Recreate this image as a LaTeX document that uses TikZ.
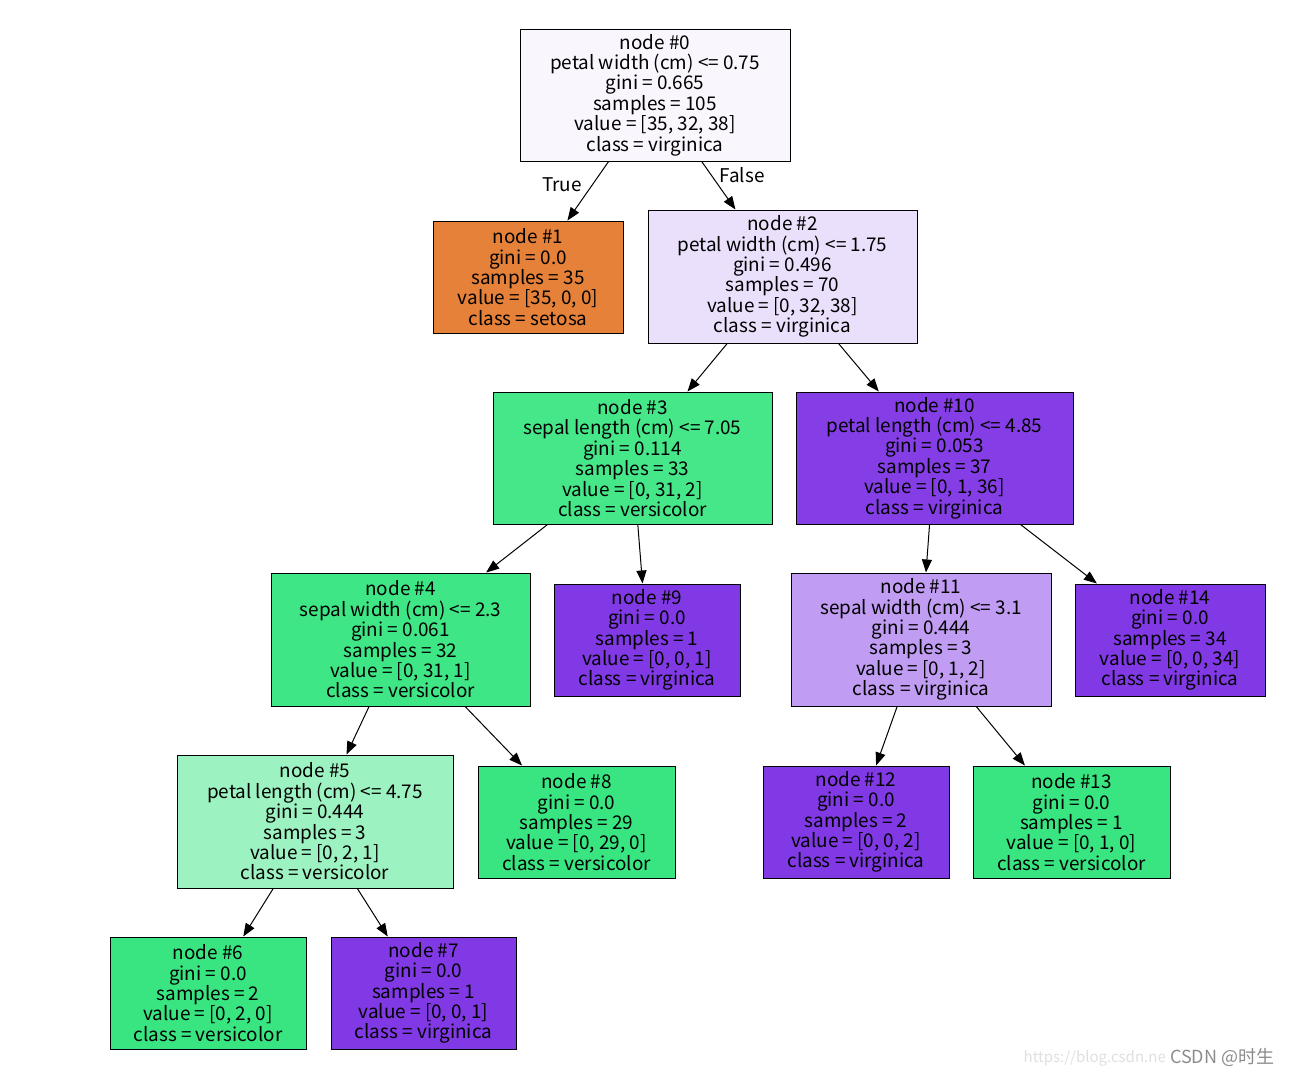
\documentclass[tikz,border=0pt]{standalone}
\usepackage{fontspec}
\setmainfont{Noto Sans CJK SC}
\usetikzlibrary{arrows.meta}
\definecolor{c0}{HTML}{F9F6FE}
\definecolor{setosa}{HTML}{E58139}
\definecolor{c2}{HTML}{EBE0FB}
\definecolor{c3}{HTML}{46E789}
\definecolor{c10}{HTML}{853EE6}
\definecolor{c4}{HTML}{3FE685}
\definecolor{c11}{HTML}{C09CF2}
\definecolor{c5}{HTML}{9CF2C0}
\definecolor{vers}{HTML}{39E581}
\definecolor{virg}{HTML}{8139E5}
\tikzset{
  tn/.style={draw=black, line width=1pt, rectangle, align=center, inner sep=0pt,
    font=\fontsize{18.9}{20.4}\selectfont},
  edge/.style={draw=black, line width=1pt, -{Triangle[length=13pt,width=10pt]}},
  elab/.style={font=\fontsize{18.9}{20.4}\selectfont, inner sep=0pt},
}
\begin{document}
\begin{tikzpicture}[x=1pt,y=-1pt]
\useasboundingbox[fill=white] (0,0) rectangle (1312,1076);
\node[tn, fill=c0, minimum width=270pt, minimum height=132pt] (n0) at (655,95)
  {node \#0\\petal width (cm) <= 0.75\\gini = 0.665\\samples = 105\\value = [35, 32, 38]\\class = virginica};
\node[tn, fill=setosa, minimum width=190pt, minimum height=112pt] (n1) at (528,277)
  {node \#1\\gini = 0.0\\samples = 35\\value = [35, 0, 0]\\class = setosa};
\node[tn, fill=c2, minimum width=269pt, minimum height=133pt] (n2) at (782.5,276.5)
  {node \#2\\petal width (cm) <= 1.75\\gini = 0.496\\samples = 70\\value = [0, 32, 38]\\class = virginica};
\node[tn, fill=c3, minimum width=279pt, minimum height=132pt] (n3) at (632.5,458)
  {node \#3\\sepal length (cm) <= 7.05\\gini = 0.114\\samples = 33\\value = [0, 31, 2]\\class = versicolor};
\node[tn, fill=c10, minimum width=277pt, minimum height=132pt] (n10) at (934.5,458)
  {node \#10\\petal length (cm) <= 4.85\\gini = 0.053\\samples = 37\\value = [0, 1, 36]\\class = virginica};
\node[tn, fill=c4, minimum width=259pt, minimum height=133pt] (n4) at (400.5,639.5)
  {node \#4\\sepal width (cm) <= 2.3\\gini = 0.061\\samples = 32\\value = [0, 31, 1]\\class = versicolor};
\node[tn, fill=virg, minimum width=186pt, minimum height=112pt] (n9) at (647,640)
  {node \#9\\gini = 0.0\\samples = 1\\value = [0, 0, 1]\\class = virginica};
\node[tn, fill=c11, minimum width=260pt, minimum height=133pt] (n11) at (921,639.5)
  {node \#11\\sepal width (cm) <= 3.1\\gini = 0.444\\samples = 3\\value = [0, 1, 2]\\class = virginica};
\node[tn, fill=virg, minimum width=190pt, minimum height=112pt] (n14) at (1170,640)
  {node \#14\\gini = 0.0\\samples = 34\\value = [0, 0, 34]\\class = virginica};
\node[tn, fill=c5, minimum width=276pt, minimum height=133pt] (n5) at (315,821.5)
  {node \#5\\petal length (cm) <= 4.75\\gini = 0.444\\samples = 3\\value = [0, 2, 1]\\class = versicolor};
\node[tn, fill=vers, minimum width=197pt, minimum height=112pt] (n8) at (576.5,822)
  {node \#8\\gini = 0.0\\samples = 29\\value = [0, 29, 0]\\class = versicolor};
\node[tn, fill=virg, minimum width=186pt, minimum height=112pt] (n12) at (856,822)
  {node \#12\\gini = 0.0\\samples = 2\\value = [0, 0, 2]\\class = virginica};
\node[tn, fill=vers, minimum width=197pt, minimum height=112pt] (n13) at (1071.5,822)
  {node \#13\\gini = 0.0\\samples = 1\\value = [0, 1, 0]\\class = versicolor};
\node[tn, fill=vers, minimum width=196pt, minimum height=112pt] (n6) at (208,993)
  {node \#6\\gini = 0.0\\samples = 2\\value = [0, 2, 0]\\class = versicolor};
\node[tn, fill=virg, minimum width=185pt, minimum height=112pt] (n7) at (423.5,993)
  {node \#7\\gini = 0.0\\samples = 1\\value = [0, 0, 1]\\class = virginica};
\draw[edge] (n0) -- (n1);
\draw[edge] (n0) -- (n2);
\draw[edge] (n2) -- (n3);
\draw[edge] (n2) -- (n10);
\draw[edge] (n3) -- (n4);
\draw[edge] (n3) -- (n9);
\draw[edge] (n4) -- (n5);
\draw[edge] (n4) -- (n8);
\draw[edge] (n5) -- (n6);
\draw[edge] (n5) -- (n7);
\draw[edge] (n10) -- (n11);
\draw[edge] (n10) -- (n14);
\draw[edge] (n11) -- (n12);
\draw[edge] (n11) -- (n13);
\node[elab] (ltrue) at (562,185) {True};
\node[elab] (lfalse) at (742,175) {False};
\node[font=\fontsize{15}{18}\selectfont, text=black!12, inner sep=0pt, anchor=east] (url) at (1166,1058) {https://blog.csdn.ne};
\node[font=\fontsize{18}{20}\selectfont, text=black!45, inner sep=0pt, anchor=west] (wm) at (1170,1057) {CSDN @时生};
\end{tikzpicture}
\end{document}
